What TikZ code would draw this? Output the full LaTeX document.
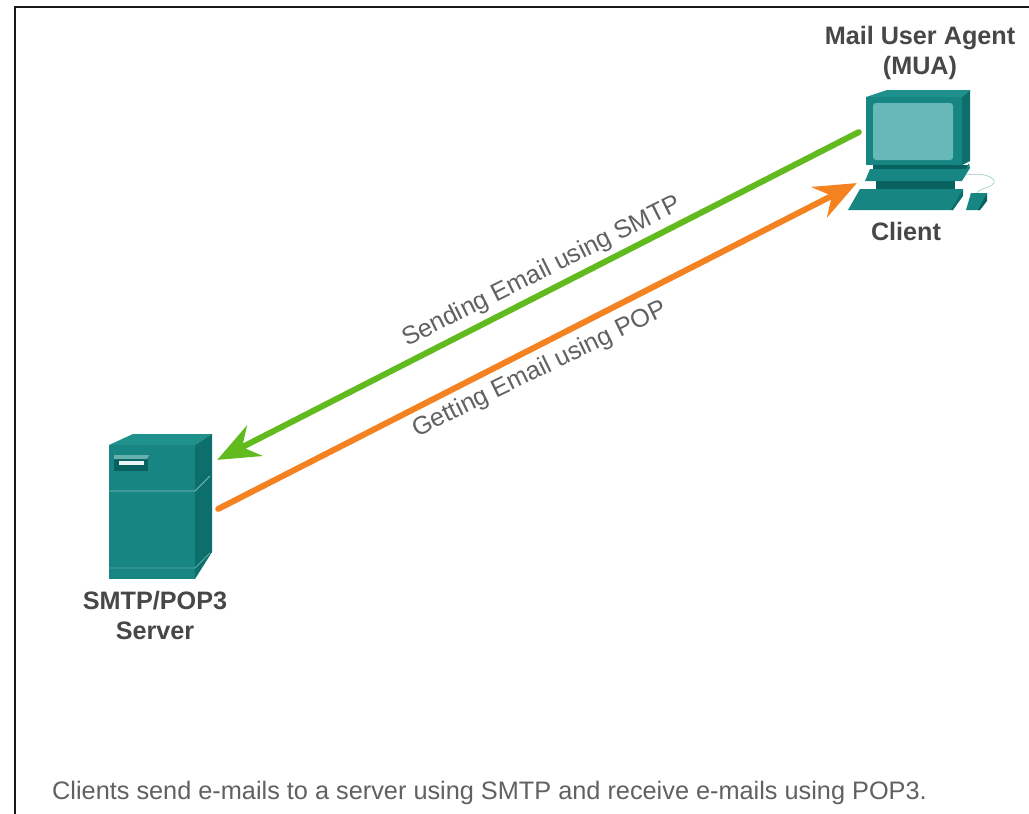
\documentclass[tikz,border=0pt]{standalone}
\usepackage{fontspec}
\setmainfont{Liberation Sans}
\usetikzlibrary{arrows.meta}
\definecolor{tealA}{HTML}{178682}
\definecolor{tealB}{HTML}{0C6F6B}
\definecolor{tealC}{HTML}{07625F}
\definecolor{tealD}{HTML}{1F918C}
\definecolor{screenC}{HTML}{66B9B6}
\definecolor{greenL}{HTML}{62BB1E}
\definecolor{orangeL}{HTML}{F58220}
\tikzset{
  x=1pt,y=-1pt,
  boldlabel/.style={font=\fontsize{25.2}{30}\selectfont\bfseries,text=black!72,align=center,inner sep=0pt},
  linklabel/.style={font=\fontsize{25.3}{30}\selectfont,text=black!62,inner sep=0pt},
  flow/.style={line width=6pt,line cap=round,-{Stealth[length=42pt,width=34pt,inset=14pt]}},
  anchorpt/.style={inner sep=0pt,minimum size=0pt}
}
\begin{document}
\begin{tikzpicture}
\useasboundingbox (0,0) rectangle (1029,814);
\fill[white] (0,0) rectangle (1029,814);
% frame
\draw[line width=2.2pt,black!90] (15,814) -- (15,7) -- (1029,7);
% server
\fill[tealA] (109,445) -- (195,445) -- (195,579) -- (109,579) -- cycle;
\fill[tealD] (109,445) -- (133,434) -- (212,434) -- (195,445) -- cycle;
\fill[tealB] (195,445) -- (212,434) -- (212,552) -- (195,579) -- cycle;
\draw[line width=0.9pt,white!45!tealA] (109,491) -- (195,491) -- (210,476);
\draw[line width=0.9pt,white!30!tealA] (109,568) -- (195,568) -- (210,553);
\fill[tealC] (114,457) rectangle (148,471);
\fill[white!35!tealA] (114,455) -- (149,455) -- (147,459) -- (114,459) -- cycle;
\fill[white!92!tealA] (119,461) rectangle (144,465);
% client monitor
\fill[tealA] (866,97) -- (962,97) -- (962,165) -- (866,165) -- cycle;
\fill[tealD] (866,97) -- (887,90) -- (970,90) -- (962,97) -- cycle;
\fill[tealB] (962,97) -- (970,90) -- (970,161) -- (962,165) -- cycle;
\fill[screenC,rounded corners=3pt] (873,103) rectangle (953,160);
\fill[tealC] (873,165) rectangle (968,170);
% stand
\fill[tealA] (870,169) -- (966,169) -- (969,163) -- (970,168) -- (962,181) -- (865,181) -- cycle;
\fill[tealC] (876,181) rectangle (955,189);
% keyboard
\fill[tealA] (860,189) -- (963,189) -- (953,210) -- (848,210) -- cycle;
\fill[tealB] (963,189) -- (963,196) -- (953,210) -- (951,210) -- cycle;
% mouse and cord
\draw[line width=0.7pt,white!60!tealA] (966,175) .. controls (985,172) and (996,178) .. (994,183) .. controls (992,188) and (981,187) .. (977,193);
\fill[tealA] (971,193) -- (987,193) -- (980,210) -- (966,210) -- cycle;
\fill[tealC] (987,193) -- (987,201) -- (980,210) -- (978,210) -- cycle;
% anchors
\node[anchorpt] (mail) at (859,132) {};
\node[anchorpt] (serverin) at (217,460) {};
\node[anchorpt] (serverout) at (218,509) {};
\node[anchorpt] (clientin) at (857,183) {};
% connectors
\draw[flow,greenL] (mail) -- (serverin);
\draw[flow,orangeL] (serverout) -- (clientin);
% labels
\node[boldlabel] (mua) at (920,53) {Mail User Agent\\(MUA)};
\node[boldlabel] (client) at (906,231) {Client};
\node[boldlabel] (srv) at (155,615) {SMTP/POP3\\Server};
\node[linklabel,rotate=26.5] (send) at (542,272) {Sending Email using SMTP};
\node[linklabel,rotate=26] (get) at (540,370) {Getting Email using POP};
\node[linklabel,anchor=west] (cap) at (52,793) {Clients send e-mails to a server using SMTP and receive e-mails using POP3.};
\end{tikzpicture}
\end{document}
